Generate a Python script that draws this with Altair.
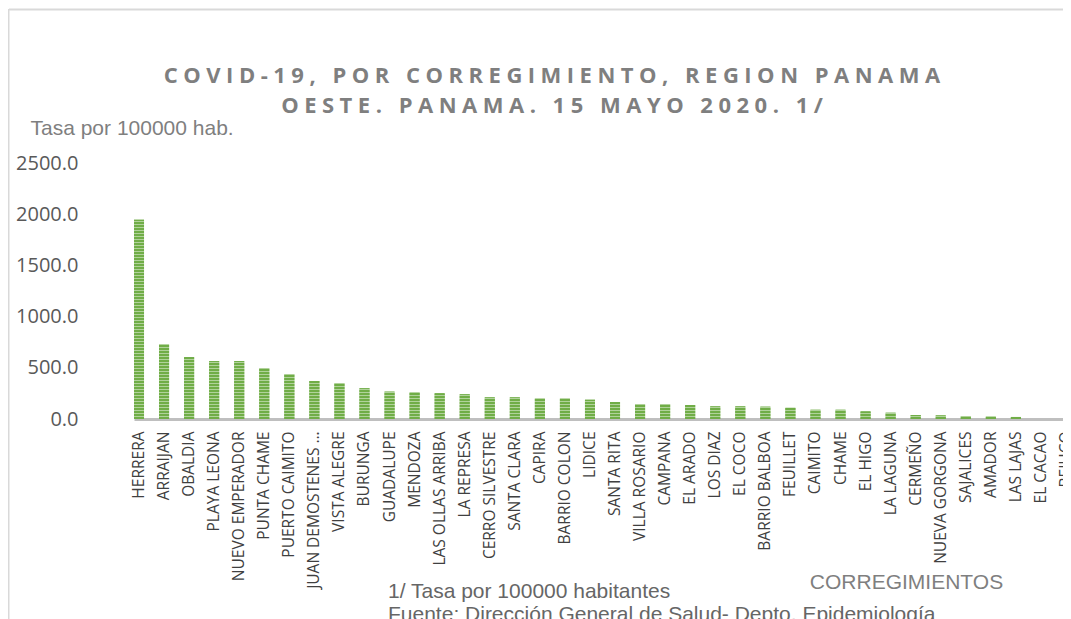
import altair as alt
import pandas as pd

corregimientos = [
    "HERRERA", "ARRAIJAN", "OBALDIA", "PLAYA LEONA", "NUEVO EMPERADOR",
    "PUNTA CHAME", "PUERTO CAIMITO", "JUAN DEMOSTENES AROSEMENA", "VISTA ALEGRE",
    "BURUNGA", "GUADALUPE", "MENDOZA", "LAS OLLAS ARRIBA", "LA REPRESA",
    "CERRO SILVESTRE", "SANTA CLARA", "CAPIRA", "BARRIO COLON", "LIDICE",
    "SANTA RITA", "VILLA ROSARIO", "CAMPANA", "EL ARADO", "LOS DIAZ", "EL COCO",
    "BARRIO BALBOA", "FEUILLET", "CAIMITO", "CHAME", "EL HIGO", "LA LAGUNA",
    "CERMEÑO", "NUEVA GORGONA", "SAJALICES", "AMADOR", "LAS LAJAS", "EL CACAO",
    "BEJUCO",
]
tasas = [
    1946, 731, 604, 565, 565, 497, 439, 371, 351, 300, 267, 261, 251, 241,
    211, 211, 201, 201, 188, 165, 146, 146, 136, 123, 123, 120, 110, 90, 90,
    74, 61, 39, 35, 29, 25, 20, 0, 0,
]
y_ticks = [0, 500, 1000, 1500, 2000, 2500]

title_lines = ["COVID-19, POR CORREGIMIENTO, REGION PANAMA", "OESTE. PANAMA. 15 MAYO 2020. 1/"]
y_title = "Tasa por 100000 hab."
x_title = "CORREGIMIENTOS"
notes = ["1/ Tasa por 100000 habitantes", "Fuente: Dirección General de Salud- Depto. Epidemiología"]

df = pd.DataFrame({"corregimiento": corregimientos, "tasa": tasas})
SP = "\u2005"
title_df = pd.DataFrame({"t": ["\n".join(SP.join(list(line)) for line in title_lines)]})
note_df = pd.DataFrame({"t": ["\n".join(notes)]})

W, H = 962, 256

x_enc = alt.X(
    "corregimiento:N",
    sort=None,
    scale=alt.Scale(range=[33, 970], paddingInner=0.6, paddingOuter=0),
    axis=alt.Axis(
        title=x_title, titleX=805, titleY=163, titleAlign="center", titleBaseline="middle",
        titleFont="Liberation Sans", titleFontSize=21, titleFontWeight="normal",
        titleColor="#7f7f7f",
        labelAngle=270, labelAlign="right", labelBaseline="middle",
        labelFont="Open Sans", labelFontSize=15.5, labelColor="#404040",
        labelPadding=12, labelLimit=165, labelOverlap=False,
        ticks=False, domainColor="#bfbfbf", domainWidth=3,
    ),
)

bars = alt.Chart(df).mark_bar(color="#70ad47", clip=True).encode(
    x=x_enc,
    y=alt.Y(
        "tasa:Q",
        scale=alt.Scale(domain=[0, 2500], nice=False),
        axis=alt.Axis(
            values=y_ticks, format=".1f", grid=False, ticks=False, domain=False,
            labelFont="Open Sans", labelFontSize=20, labelColor="#595959", labelPadding=23,
            title=y_title, titleX=-71, titleY=-35, titleAngle=0, titleAlign="left",
            titleBaseline="middle", titleFont="Liberation Sans", titleFontSize=21,
            titleFontWeight="normal", titleColor="#7f7f7f",
        ),
    ),
)

stripe_values = [round(i * 29.3, 1) for i in range(1, 86)]
stripes = alt.Chart(df).mark_bar(color="#70ad47", clip=True).encode(
    x=x_enc,
    y=alt.Y(
        "tasa:Q",
        axis=alt.Axis(
            orient="right", values=stripe_values, grid=True, gridColor="white",
            gridOpacity=0.45, gridWidth=1.2, labels=False, ticks=False, domain=False,
            title=None, zindex=1,
        ),
    ),
)

title = alt.Chart(title_df).mark_text(
    align="center", baseline="alphabetic", lineBreak="\n", lineHeight=30,
    font="Open Sans", fontSize=22, fontWeight="bold", color="#7f7f7f",
).encode(text="t:N", x=alt.value(451), y=alt.value(-80))

note = alt.Chart(note_df).mark_text(
    align="left", baseline="alphabetic", lineBreak="\n", lineHeight=23,
    font="Liberation Sans", fontSize=21, color="#666666",
).encode(text="t:N", x=alt.value(287), y=alt.value(435))

border_top = alt.Chart(note_df).mark_rule(color="#d9d9d9", strokeWidth=2).encode(
    x=alt.value(-92), x2=alt.value(975), y=alt.value(-153.5)
)
border_left = alt.Chart(note_df).mark_rule(color="#d9d9d9", strokeWidth=2).encode(
    x=alt.value(-92.5), y=alt.value(-154), y2=alt.value(470)
)

chart = (
    alt.layer(bars, stripes, title, note, border_top, border_left)
    .resolve_axis(y="independent")
    .properties(
        width=W, height=H,
        autosize=alt.AutoSizeParams(type="none"),
        padding={"left": 93, "top": 155, "right": 0, "bottom": 200},
    )
    .configure_view(stroke=None)
)

chart.save("out.html", embed_options={"renderer": "svg", "actions": False})
